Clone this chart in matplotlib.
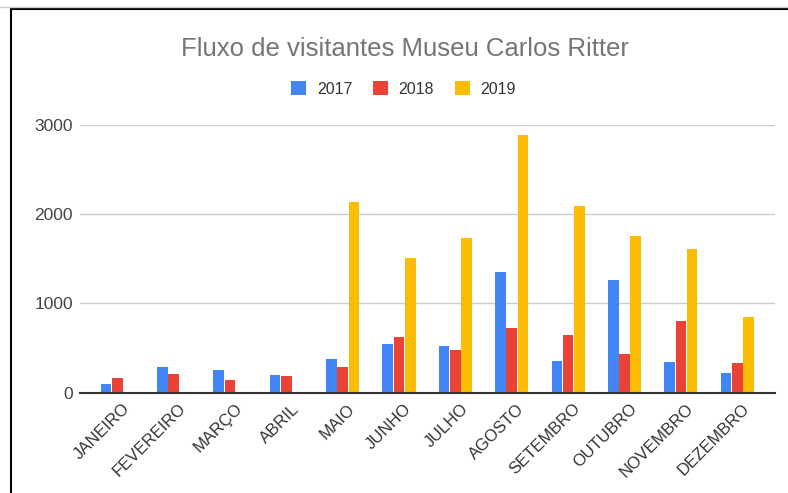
import matplotlib
matplotlib.use("Agg")
import matplotlib.pyplot as plt
from matplotlib.patches import Patch
from matplotlib.lines import Line2D
from matplotlib.transforms import ScaledTranslation
import numpy as np

plt.rcParams['font.family'] = ['Liberation Sans', 'DejaVu Sans']

# dados
meses = ["JANEIRO", "FEVEREIRO", "MARÇO", "ABRIL", "MAIO", "JUNHO",
         "JULHO", "AGOSTO", "SETEMBRO", "OUTUBRO", "NOVEMBRO", "DEZEMBRO"]
v2017 = [93, 284, 254, 194, 374, 549, 519, 1356, 359, 1266, 340, 224]
v2018 = [168, 209, 138, 183, 284, 620, 474, 721, 650, 430, 799, 329]
v2019 = [0, 0, 0, 0, 2137, 1505, 1737, 2888, 2088, 1752, 1606, 844]
anos = ["2017", "2018", "2019"]
y_ticks = [0, 1000, 2000, 3000]

cores = ["#4285F4", "#EA4335", "#FBBC04"]

fig = plt.figure(figsize=(7.88, 4.93), dpi=100)
ax = fig.add_axes([80/788, 100.3/493, 695/788, 267.7/493])

x = np.arange(len(meses))
w = 0.19
for i, (serie, cor) in enumerate(zip([v2017, v2018, v2019], cores)):
    ax.bar(x + (i - 1) * 0.2, serie, width=w, color=cor, zorder=3)

ax.set_xlim(-0.66, 11.67)
ax.set_ylim(0, 3000)
ax.set_yticks(y_ticks)
ax.set_yticklabels([str(t) for t in y_ticks], fontsize=12.5, color="#444444")
ax.set_xticks(x)
ax.set_xticklabels(meses, rotation=45, ha="right", va="top",
                   rotation_mode="anchor", fontsize=12, color="#333333")
ax.tick_params(axis="both", length=0)
ax.tick_params(axis="y", pad=5)
ax.tick_params(axis="x", pad=6)

# desloca os rótulos do eixo x um pouco para a direita
desloc = ScaledTranslation(5/100, 0, fig.dpi_scale_trans)
for lbl in ax.get_xticklabels():
    lbl.set_transform(lbl.get_transform() + desloc)

# grade
ax.grid(axis="y", color="#cccccc", linewidth=1, zorder=0)
for s in ["top", "right", "left"]:
    ax.spines[s].set_visible(False)
ax.spines["bottom"].set_color("#333333")
ax.spines["bottom"].set_linewidth(1.5)
ax.spines["bottom"].set_zorder(4)

# título
fig.text(0.514, 0.9, "Fluxo de visitantes Museu Carlos Ritter",
         ha="center", va="center", fontsize=18.5, color="#757575")

# legenda
handles = [Patch(facecolor=c, edgecolor="none") for c in cores]
fig.legend(handles, anos, loc="center", bbox_to_anchor=(0.512, 0.8195),
           ncol=3, frameon=False, fontsize=11.5, handlelength=0.95,
           handleheight=1.0, handletextpad=0.65, columnspacing=1.3,
           labelcolor="#333333")

# moldura
fig.add_artist(Line2D([11/788, 11/788], [0, 484/493], color="black", linewidth=1.5))
fig.add_artist(Line2D([11/788, 1], [484/493, 484/493], color="black", linewidth=1.5))
fig.add_artist(Line2D([0, 1], [486.5/493, 486.5/493], color="#cccccc", linewidth=1))

fig.savefig("out.png", dpi=100)
